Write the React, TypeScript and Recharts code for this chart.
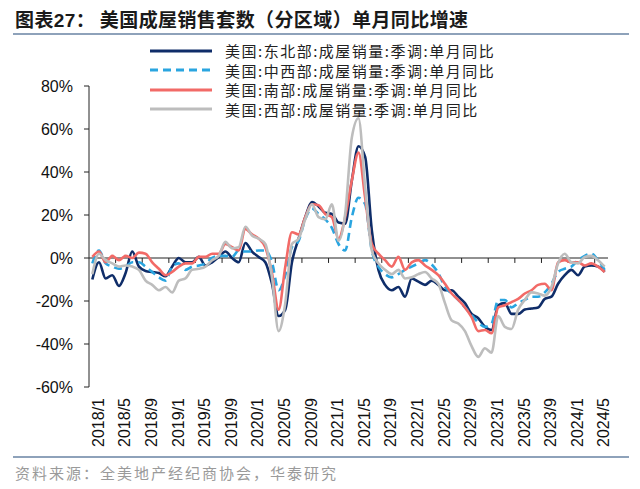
import React from "react";
import {
  LineChart,
  Line,
  XAxis,
  YAxis,
  ReferenceLine,
} from "recharts";

// 2018/1 .. 2024/6, one point per month
const months: string[] = [];
for (let y = 2018; y <= 2024; y++) {
  for (let m = 1; m <= 12; m++) {
    if (y === 2024 && m > 6) break;
    months.push(`${y}/${m}`);
  }
}

const northeast = [
  -10, -2, -9.5, -8, -13, -7, 3, -4, -6, -6.5, -7, -8.5,
  -4, 0, -2, -2, 0.5, -3.5, -2, 0.5, 3, 0, -2, 7,
  3, 0.5, -2, -12, -27, -24, -2, 9, 19, 26, 24, 21,
  20.5, 16.5, 16, 36, 52, 47, 13, -5.5, -12.5, -15, -13.5, -18,
  -9.5, -11, -12.5, -10.5, -12.5, -15, -15, -18, -21, -26, -28, -32,
  -33.5, -22, -21, -26, -26, -24, -23.5, -23, -19, -18, -12, -8,
  -5.5, -8, -4, -3.5, -4, -6.5,
];

const midwest = [
  -2.5, 3.5, -2.5, -4, -5, -4, -2, -2, -4, -6.5, -9, -10.5,
  -4, -2.5, -5.5, -4, -3.5, -2.5, 0, 1, 1, 0.5, 3.5, 3,
  3, 3.5, 3.5, -2, -15, -8, 5, 8, 18, 23, 20.5, 18,
  14, 6.5, 3.5, 19, 28, 25, 3.5, -4, -7.5, -9, -7.5, -5.5,
  -4, -2.5, -1, -3, -7, -13.5, -16.5, -19.5, -23, -26.5, -30, -32,
  -30.5, -19.5, -19.5, -23, -21, -19.5, -18, -18, -16, -12, -6.5, -5,
  -4, -1, 1, 2, -1, -5.5,
];

const south = [
  0.5, 3, -2, 1, -1, 1, 0, 2.5, 2, -2, -5, -8,
  -6.5, -4, -2.5, -2.5, 0.5, 0.5, 2, 2, 6.5, 5, 3.5, 13.5,
  11, 9, 5, -7, -24, -4, 12, 11, 19, 25, 24.5, 20.5,
  19, 9, 19, 36, 49, 28, 6.5, 2, -1, -4, 0.5, -5.5,
  -2, -1, -3.5, -5.5, -8, -12, -16.5, -19.5, -23, -27.5, -34, -33.5,
  -35, -23, -22, -20.5, -19, -16.5, -15, -12.5, -12, -15, -2, -1,
  -2, -2, -3.5, -2.5, -4, -6.5,
];

const west = [
  -7.5, 2, -1, -2.5, -4, -3.5, -4, -5.5, -10.5, -12.5, -15, -13.5,
  -16, -10.5, -9.5, -5.5, -5, -4, -1, 1, 7.5, 4.5, 5, 14.5,
  10.5, 9, 6.5, -9, -34, -21, 6.5, 9, 18, 25, 19, 18,
  25, 8, 20.5, 56, 65, 33, 3.5, -2.5, -5.5, -7.5, -5.5, -9.5,
  -9, -7.5, -6.5, -9.5, -12, -21, -29, -30.5, -34, -41, -46, -42,
  -44, -27, -32, -33, -24, -19.5, -16, -16.5, -17.5, -13.5, -2.5, 2,
  -2, -2.5, 0.5, 1, -1, -4,
];

const yTicks = [-60, -40, -20, 0, 20, 40, 60, 80];
const labelIdx = months.map((_, i) => i).filter((i) => i % 4 === 0);
const boundaryTicks = labelIdx.slice(1).map((i) => i - 0.5);

const series = [
  { key: "ne", name: "美国:东北部:成屋销量:季调:单月同比", color: "#0f2d69", dash: undefined },
  { key: "mw", name: "美国:中西部:成屋销量:季调:单月同比", color: "#2aa5e0", dash: "8 5" },
  { key: "s", name: "美国:南部:成屋销量:季调:单月同比", color: "#f26a67", dash: undefined },
  { key: "w", name: "美国:西部:成屋销量:季调:单月同比", color: "#bdbdbd", dash: undefined },
];

const data = months.map((m, i) => ({
  i,
  month: m,
  ne: northeast[i],
  mw: midwest[i],
  s: south[i],
  w: west[i],
}));

const cjk = '"Noto Sans CJK SC", sans-serif';
const latin = '"Liberation Sans", Arial, sans-serif';

export default function App() {
  return (
    <div style={{ position: "absolute", left: 0, top: 0, width: 640, height: 489, background: "#fff" }}>
      <div
        style={{
          position: "absolute",
          left: 15,
          top: 6,
          fontFamily: cjk,
          fontWeight: 700,
          fontSize: 19,
          letterSpacing: 0.4,
          color: "#1a1a1a",
          whiteSpace: "nowrap",
          lineHeight: "26px",
        }}
      >
        图表<span style={{ fontFamily: latin }}>27</span>：&nbsp;美国成屋销售套数（分区域）单月同比增速
      </div>
      <div style={{ position: "absolute", left: 13, top: 33, width: 616, height: 2, background: "#8ea2ba" }} />

      <LineChart
        width={640}
        height={489}
        data={data}
        margin={{ top: 86, right: 32, bottom: 42, left: 29 }}
      >
        <XAxis
          dataKey="i"
          type="number"
          domain={[-0.5, months.length - 0.5]}
          ticks={labelIdx}
          tickFormatter={(v) => months[v]}
          interval={0}
          axisLine={false}
          tickLine={false}
          tickSize={0}
          tickMargin={10}
          height={60}
          angle={-90}
          textAnchor="end"
          tick={{ fontSize: 16, fill: "#111", fontFamily: latin, dy: 1 }}
        />
        <YAxis
          domain={[-60, 80]}
          ticks={yTicks}
          width={60}
          tickFormatter={(v) => `${v}%`}
          axisLine={{ stroke: "#222" }}
          tickLine={{ stroke: "#222" }}
          tickSize={5}
          tickMargin={11}
          tick={{ fontSize: 16, fill: "#111", fontFamily: latin }}
          interval={0}
        />
        <ReferenceLine y={0} stroke="#222" />
        {boundaryTicks.map((t) => (
          <ReferenceLine
            key={t}
            segment={[
              { x: t, y: 0 },
              { x: t, y: -2.3 },
            ]}
            stroke="#222"
          />
        ))}
        {series.map((s) => (
          <Line
            key={s.key}
            type="monotone"
            dataKey={s.key}
            stroke={s.color}
            strokeWidth={2.6}
            strokeDasharray={s.dash}
            dot={false}
            isAnimationActive={false}
          />
        ))}
      </LineChart>

      <div style={{ position: "absolute", left: 150, top: 41 }}>
        {series.map((s) => (
          <div key={s.key} style={{ display: "flex", alignItems: "center", height: 19.5 }}>
            <svg width={62} height={6} style={{ display: "block" }}>
              <line x1={0} y1={3} x2={62} y2={3} stroke={s.color} strokeWidth={3} strokeDasharray={s.dash} />
            </svg>
            <span
              style={{
                marginLeft: 13,
                fontFamily: cjk,
                fontSize: 15,
                letterSpacing: 1.5,
                color: "#222",
                whiteSpace: "nowrap",
                lineHeight: "19px",
              }}
            >
              {s.name}
            </span>
          </div>
        ))}
      </div>

      <div style={{ position: "absolute", left: 13, top: 456, width: 616, height: 2, background: "#8ea2ba" }} />
      <div
        style={{
          position: "absolute",
          left: 15,
          top: 462,
          fontFamily: cjk,
          fontSize: 15,
          letterSpacing: 2,
          color: "#9a9a9a",
          whiteSpace: "nowrap",
          lineHeight: "22px",
        }}
      >
        资料来源：全美地产经纪商协会，华泰研究
      </div>
    </div>
  );
}
